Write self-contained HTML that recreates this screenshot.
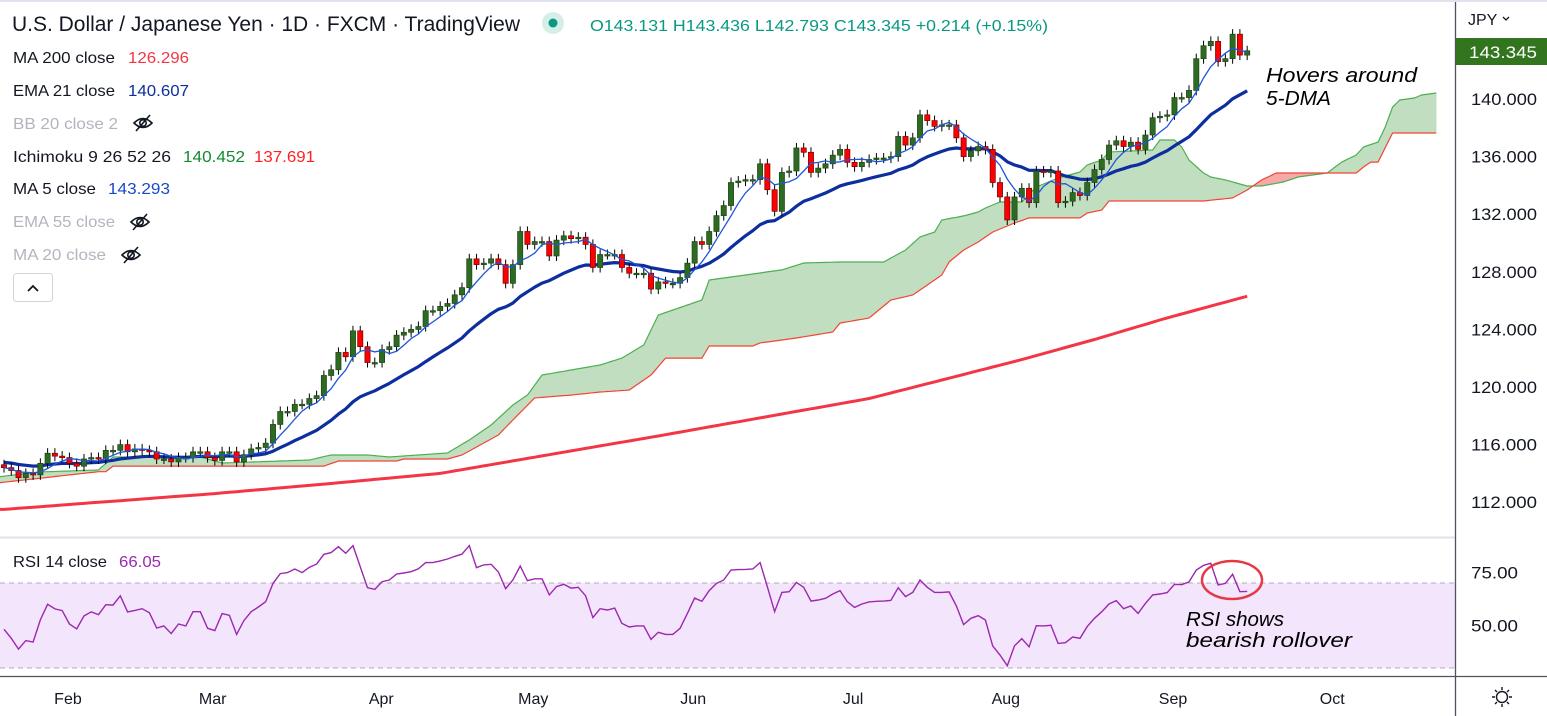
<!DOCTYPE html>
<html><head><meta charset="utf-8"><style>
html,body{margin:0;padding:0;background:#fff;width:1547px;height:716px;overflow:hidden}
svg{display:block;font-family:"Liberation Sans",sans-serif}
</style></head><body>
<svg id="chart" width="1547" height="716" viewBox="0 0 1547 716" xmlns="http://www.w3.org/2000/svg">
<defs>
<clipPath id="pc"><rect x="0" y="2" width="1455" height="535"/></clipPath>
<clipPath id="rc"><rect x="0" y="538" width="1455" height="138"/></clipPath>
</defs>
<rect x="0" y="0" width="1547" height="716" fill="#fff"/>
<rect x="0" y="0" width="1547" height="2" fill="#e0e3eb"/>
<g id="cloud" clip-path="url(#pc)"></g>
<g id="ma200" clip-path="url(#pc)"></g>
<g id="ema21" clip-path="url(#pc)"></g>
<g id="candles" clip-path="url(#pc)"></g>
<g id="ma5" clip-path="url(#pc)"></g>
<line x1="0" y1="537.5" x2="1455" y2="537.5" stroke="#e0e3eb" stroke-width="2"/>
<g id="rsi"></g>
<line x1="0" y1="676.5" x2="1547" y2="676.5" stroke="#50535e" stroke-width="1.3"/>
<line x1="1455.5" y1="2" x2="1455.5" y2="716" stroke="#50535e" stroke-width="1.3"/>
<g id="axes"></g>

<!-- Header -->
<text x="12" y="31" font-size="21" fill="#131722" textLength="508" lengthAdjust="spacingAndGlyphs">U.S. Dollar / Japanese Yen · 1D · FXCM · TradingView</text>
<circle cx="553" cy="23" r="11" fill="#d5efe8"/>
<circle cx="553" cy="23" r="4.5" fill="#089981"/>
<text x="590" y="31" font-size="16" fill="#089981" textLength="458" lengthAdjust="spacingAndGlyphs">O143.131 H143.436 L142.793 C143.345 +0.214 (+0.15%)</text>

<g font-size="16">
<text x="13" y="63" fill="#131722" textLength="102" lengthAdjust="spacingAndGlyphs">MA 200 close</text>
<text x="128" y="63" fill="#f23645" textLength="61" lengthAdjust="spacingAndGlyphs">126.296</text>
<text x="13" y="96" fill="#131722" textLength="102" lengthAdjust="spacingAndGlyphs">EMA 21 close</text>
<text x="128" y="96" fill="#0d2e9e" textLength="61" lengthAdjust="spacingAndGlyphs">140.607</text>
<text x="13" y="129" fill="#b2b5be" textLength="105" lengthAdjust="spacingAndGlyphs">BB 20 close 2</text>
<text x="13" y="162" fill="#131722" textLength="158" lengthAdjust="spacingAndGlyphs">Ichimoku 9 26 52 26</text>
<text x="183" y="162" fill="#138a2f" textLength="62" lengthAdjust="spacingAndGlyphs">140.452</text>
<text x="254" y="162" fill="#ff1f1f" textLength="61" lengthAdjust="spacingAndGlyphs">137.691</text>
<text x="13" y="194" fill="#131722" textLength="83" lengthAdjust="spacingAndGlyphs">MA 5 close</text>
<text x="108" y="194" fill="#1848cc" textLength="62" lengthAdjust="spacingAndGlyphs">143.293</text>
<text x="13" y="227" fill="#b2b5be" textLength="102" lengthAdjust="spacingAndGlyphs">EMA 55 close</text>
<text x="13" y="260" fill="#b2b5be" textLength="93" lengthAdjust="spacingAndGlyphs">MA 20 close</text>
</g>
<g fill="none" stroke="#131722" stroke-width="1.6">
<g transform="translate(143,123)"><path d="M-9,0 Q0,-9 9,0 Q0,9 -9,0Z"/><circle r="3.2"/><line x1="-7" y1="8" x2="7" y2="-8"/></g>
<g transform="translate(140,222)"><path d="M-9,0 Q0,-9 9,0 Q0,9 -9,0Z"/><circle r="3.2"/><line x1="-7" y1="8" x2="7" y2="-8"/></g>
<g transform="translate(131,255)"><path d="M-9,0 Q0,-9 9,0 Q0,9 -9,0Z"/><circle r="3.2"/><line x1="-7" y1="8" x2="7" y2="-8"/></g>
</g>
<g>
<rect x="13.5" y="273.5" width="39" height="28" rx="3" fill="#fff" stroke="#d1d4dc"/>
<path d="M28,291 L33,286 L38,291" fill="none" stroke="#131722" stroke-width="1.8"/>
</g>

<!-- Right axis header -->
<text x="1468" y="25" font-size="16" fill="#131722">JPY</text>
<path d="M1503,17 L1506,20 L1509,17" fill="none" stroke="#131722" stroke-width="1.3"/>
<rect x="1456" y="38" width="91" height="27" fill="#33741f"/>
<text x="1469" y="58" font-size="17" fill="#fff" textLength="68" lengthAdjust="spacingAndGlyphs">143.345</text>

<!-- Annotations -->
<g font-size="20" font-style="italic" fill="#000">
<text x="1266" y="82" textLength="151" lengthAdjust="spacingAndGlyphs">Hovers around</text>
<text x="1266" y="105" textLength="65" lengthAdjust="spacingAndGlyphs">5-DMA</text>
</g>
<g font-size="20" font-style="italic" fill="#000">
<text x="1186" y="626" textLength="98" lengthAdjust="spacingAndGlyphs">RSI shows</text>
<text x="1186" y="647" textLength="166" lengthAdjust="spacingAndGlyphs">bearish rollover</text>
</g>
<ellipse cx="1232" cy="580" rx="30" ry="19" fill="none" stroke="#e53945" stroke-width="2.5"/>

<!-- settings icon -->
<g transform="translate(1502,697)" fill="none" stroke="#131722" stroke-width="1.4">
<circle r="5.5"/><path d="M0,-10V-7M0,7V10M-10,0H-7M7,0H10M-7,-7L-5,-5M5,5L7,7M-7,7L-5,5M5,-5L7,-7"/>
</g>
</svg>
<script>
// ---- data ----
const closes = [114.4,114.2,113.7,114.0,113.9,114.7,115.4,115.2,115.1,114.7,
114.5,115.0,115.1,115.0,115.6,115.6,116.0,115.5,115.7,115.6,
115.5,115.0,115.0,114.8,115.1,115.1,115.5,115.5,115.1,114.9,
115.5,115.5,114.8,115.3,115.7,115.8,116.1,117.4,118.3,118.3,
118.8,118.8,119.2,119.4,120.8,121.2,122.4,122.1,123.9,122.8,
121.7,121.7,122.6,122.8,123.6,123.8,124.0,124.2,125.3,125.3,
125.6,125.8,
126.4,126.9,128.9,128.5,128.6,128.9,128.5,127.2,128.5,130.8,
129.9,130.1,130.1,129.1,130.2,130.5,130.3,130.4,129.9,128.3,
129.2,129.2,129.2,128.3,127.9,127.9,127.9,126.8,127.3,127.2,
127.2,127.6,128.6,130.1,129.9,130.8,131.9,132.6,134.2,134.3,
134.4,134.4,135.5,133.7,132.2,134.9,135.0,136.6,136.3,134.9,
135.2,135.5,136.1,136.5,
135.6,135.3,135.6,135.8,135.9,135.9,136.0,137.4,136.8,137.3,
138.9,138.5,138.1,138.2,138.2,137.3,136.0,136.4,136.7,136.5,
134.2,133.2,131.6,133.2,133.8,132.8,135.0,134.9,135.0,132.8,
132.9,133.5,133.3,134.2,135.1,135.8,136.8,137.1,136.7,137.0,
136.5,137.5,138.7,138.8,138.9,140.1,140.1,140.6,142.8,143.7,
144.0,142.6,142.8,144.5,143.05,143.35];
const firstOpen = 114.6;
const emaSeed = 114.8;
const ma200Idx = [0,29,45,60,90,119,140,150,160,171];
const ma200Val = [111.5,112.6,113.3,114.0,116.6,119.2,121.9,123.3,124.8,126.3];
const spanAIdx = [-1,5,13,15,27,30,42,45,50,53,57,61,64,67,70,72,74,82,85,88,89,90,96,97,103,107,110,115,121,124,126,128,129,132,134,135,137,140,142,145,148,149,151,152,158,159,161,162,163,165,166,168,171,173,176,178,181,182,184,186,187,189,190,191,192,194,195,197];
const spanAVal = [113.75,114.10,114.24,115.14,115.14,114.72,114.93,115.28,115.28,115.14,115.28,115.42,116.32,117.36,118.75,119.44,120.83,121.53,122.01,122.92,123.96,125.0,126.04,127.43,127.85,128.13,128.61,128.68,128.68,129.51,130.42,130.76,131.6,131.88,132.15,132.43,132.85,132.85,133.89,134.51,134.93,135.42,135.76,136.32,136.46,137.15,137.15,136.67,135.76,134.86,134.58,134.38,133.96,133.96,134.24,134.58,134.79,134.86,135.62,136.11,136.67,137.01,138.06,139.44,139.93,140.07,140.28,140.42];
const spanBIdx = [-1,13,14,15,44,46,54,55,61,63,65,68,70,73,78,82,86,89,91,96,97,103,104,109,114,115,119,122,125,127,129,130,132,134,136,139,141,148,149,151,152,165,169,171,173,175,186,187,188,189,191,197];
const spanBVal = [113.33,114.12,114.12,114.51,114.51,114.86,114.86,115.0,115.0,115.28,115.83,116.67,117.71,119.24,119.44,119.65,119.79,120.83,122.01,122.01,122.85,122.85,123.06,123.4,123.82,124.44,124.79,126.04,126.39,127.08,127.78,128.68,129.51,130.07,130.76,131.39,131.74,131.74,132.08,132.29,132.92,132.92,133.13,133.68,134.38,134.86,134.86,135.28,135.62,135.62,137.64,137.64];
const rsiVals = [48.2,44.0,38.9,42.9,42.2,52.6,60.0,57.8,57.0,50.7,
48.4,54.5,56.4,55.1,59.8,59.6,64.0,56.4,57.1,57.9,
56.0,48.8,49.8,46.2,50.7,49.8,56.5,56.5,48.7,47.6,
55.6,54.8,45.8,52.3,56.5,58.7,61.2,69.8,74.4,74.9,
76.6,74.9,77.4,78.9,83.5,84.3,87.1,84.0,87.6,77.7,
67.8,67.0,70.6,71.4,74.2,74.7,75.3,76.7,79.6,79.6,
80.4,81.3,82.5,83.6,87.6,77.2,78.5,78.8,75.2,67.3,
71.4,78.0,71.1,72.0,72.0,64.4,68.3,69.4,67.6,68.0,
64.0,53.7,57.9,57.3,58.2,51.0,49.3,49.8,49.8,43.5,
46.8,45.8,45.8,48.7,55.7,62.9,61.4,66.4,69.8,71.4,
76.1,76.3,76.4,76.6,79.6,
68.3,56.5,65.6,65.9,70.3,68.0,61.5,62.0,62.8,64.8,
66.4,61.2,58.5,60.1,61.1,61.4,61.5,61.8,67.8,63.6,
65.6,71.4,68.0,65.6,65.6,65.8,59.2,50.4,53.4,54.6,
52.6,40.4,36.1,31.1,40.4,43.8,40.0,49.9,49.8,50.1,
41.6,41.9,44.6,44.0,49.5,53.4,56.5,60.1,61.7,57.9,
59.2,55.7,60.4,64.4,64.8,65.5,69.4,69.2,70.5,76.1,
78.3,79.3,69.1,69.8,74.1,65.9,66.05];
const priceTicks = [140,136,132,128,124,120,116,112];
const rsiTicks = [75,50];
const monthLabels = ["Feb","Mar","Apr","May","Jun","Jul","Aug","Sep","Oct"];
const monthIdx = [8.8,28.7,51.9,72.8,94.8,116.8,137.8,160.8,182.7];

// ---- scales ----
const NS = "http://www.w3.org/2000/svg";
const BAR = 7.27, X0 = 4;
function xAt(i){ return X0 + i*BAR; }
function yP(p){ return 99 + (140 - p)*14.4; }
function yR(r){ return 583 + (70 - r)*2.125; }
function mk(tag, attrs, parent){ const e=document.createElementNS(NS,tag); for(const k in attrs) e.setAttribute(k,attrs[k]); parent.appendChild(e); return e; }
function interp(idx, val, i){
  if(i<=idx[0]) return val[0];
  for(let k=1;k<idx.length;k++){ if(i<=idx[k]){ const t=(i-idx[k-1])/((idx[k]-idx[k-1])||1); return val[k-1]+t*(val[k]-val[k-1]); } }
  return val[val.length-1];
}
function pathOf(pts){ return pts.map((p,k)=>(k?"L":"M")+p[0].toFixed(1)+","+p[1].toFixed(1)).join(""); }

// ---- ichimoku cloud ----
const cloudG = document.getElementById("cloud");
const lastCloud = spanAIdx[spanAIdx.length-1];
const aPts=[], bPts=[];
for(let i=-1;i<=lastCloud;i+=0.5){ aPts.push([xAt(i), yP(interp(spanAIdx,spanAVal,i))]); bPts.push([xAt(i), yP(interp(spanBIdx,spanBVal,i))]); }
for(let k=1;k<aPts.length;k++){
  const up = (aPts[k][1]+aPts[k-1][1]) <= (bPts[k][1]+bPts[k-1][1]);
  const q = mk("polygon",{points:[aPts[k-1],aPts[k],bPts[k],bPts[k-1]].map(p=>p.join(",")).join(" "),fill:up?"#c1dfc0":"#f7a9a7",stroke:up?"#c1dfc0":"#f7a9a7","stroke-width":"0.6"},cloudG);
  
  
}
const la = mk("path",{d:pathOf(aPts),fill:"none",stroke:"#4caf50","stroke-width":"1.2"},cloudG);


const lb = mk("path",{d:pathOf(bPts),fill:"none",stroke:"#f44336","stroke-width":"1.2"},cloudG);



// ---- MA200 ----
const maPts=[]; for(let i=-1;i<=closes.length-1;i+=1) maPts.push([xAt(i), yP(interp(ma200Idx,ma200Val,i))]);
const m200 = mk("path",{d:pathOf(maPts),fill:"none",stroke:"#f23645","stroke-width":"3"},document.getElementById("ma200"));



// ---- EMA21 ----
const k21 = 2/22; let ema = emaSeed; const ePts=[];
closes.forEach((c,i)=>{ ema = ema + k21*(c-ema); ePts.push([xAt(i), yP(ema)]); });
const e21 = mk("path",{d:pathOf(ePts),fill:"none",stroke:"#0d2e9e","stroke-width":"3.2","stroke-linejoin":"round"},document.getElementById("ema21"));



// ---- candles ----
const cg = document.getElementById("candles");
const WICK = 0.35;
closes.forEach((c,i)=>{
  const o = i===0 ? firstOpen : closes[i-1];
  const x = xAt(i);
  const hi = Math.max(o,c)+WICK, lo = Math.min(o,c)-WICK;
  const g = mk("g",{},cg);
  
  
  mk("line",{x1:x,x2:x,y1:yP(hi),y2:yP(lo),stroke:"#000","stroke-width":"1"},g);
  const top = yP(Math.max(o,c)), h = Math.max(1.5, Math.abs(yP(o)-yP(c)));
  mk("rect",{x:x-2.6,y:top,width:5.2,height:h,fill:c>=o?"#2e6b22":"#ff0000",stroke:c>=o?"#1d4514":"#7a0000","stroke-width":"0.7"},g);
});

// ---- MA5 ----
const m5=[]; closes.forEach((c,i)=>{ const s=closes.slice(Math.max(0,i-4),i+1); m5.push([xAt(i), yP(s.reduce((a,b)=>a+b,0)/s.length)]); });
const ma5 = mk("path",{d:pathOf(m5),fill:"none",stroke:"#1e56d8","stroke-width":"1.3"},document.getElementById("ma5"));



// ---- RSI ----
const rg = document.getElementById("rsi");
const band = mk("rect",{x:0,y:yR(70),width:1455,height:yR(30)-yR(70),fill:"#f3e5fb"},rg);


[70,30].forEach(v=>{
  const l = mk("line",{x1:0,x2:1455,y1:yR(v),y2:yR(v),stroke:"#b7a9bd","stroke-width":"1","stroke-dasharray":"5,4"},rg);
  
  
});
const rPts = rsiVals.map((r,i)=>[xAt(i), yR(r)]);
const rl = mk("path",{d:pathOf(rPts),fill:"none",stroke:"#9c27b0","stroke-width":"1.4","clip-path":"url(#rc)"},rg);


const rt = mk("text",{x:13,y:567,"font-size":"16",fill:"#131722",textLength:"94",lengthAdjust:"spacingAndGlyphs"},rg);
rt.textContent = "RSI 14 close";


const rv = mk("text",{x:119,y:567,"font-size":"16",fill:"#9c27b0",textLength:"42",lengthAdjust:"spacingAndGlyphs"},rg);
rv.textContent = rsiVals[rsiVals.length-1].toFixed(2);



// ---- axes ----
const ag = document.getElementById("axes");
priceTicks.forEach(p=>{
  const t = mk("text",{x:1471,y:yP(p)+6,"font-size":"17",fill:"#131722",textLength:"66",lengthAdjust:"spacingAndGlyphs"},ag);
  t.textContent = p.toFixed(3);
  
  
});
rsiTicks.forEach(r=>{
  const t = mk("text",{x:1471,y:yR(r)+6,"font-size":"17",fill:"#131722",textLength:"47",lengthAdjust:"spacingAndGlyphs"},ag);
  t.textContent = r.toFixed(2);
  
  
});
monthLabels.forEach((m,k)=>{
  const t = mk("text",{x:xAt(monthIdx[k]),y:704,"font-size":"16",fill:"#131722","text-anchor":"middle"},ag);
  t.textContent = m;
  
  
});
</script>
</body></html>
